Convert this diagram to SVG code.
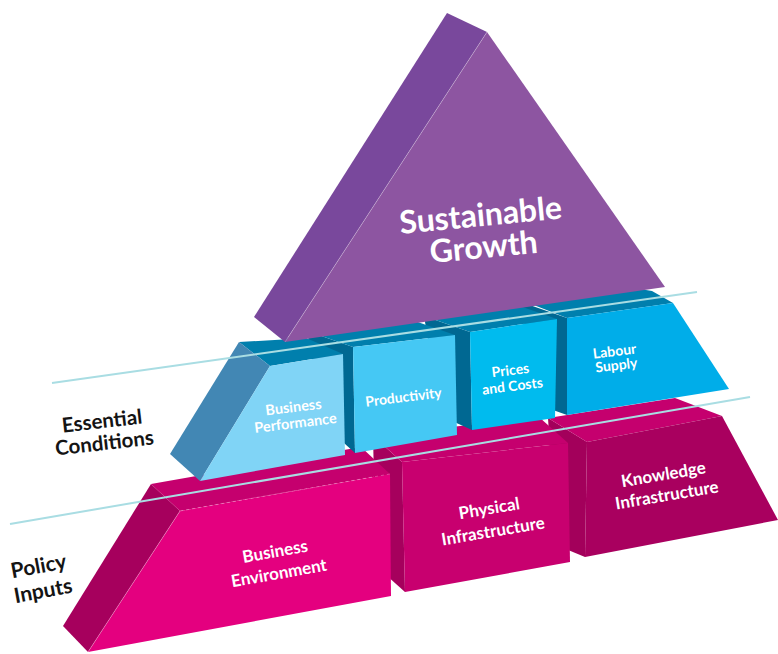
<svg xmlns="http://www.w3.org/2000/svg" width="778" height="654" viewBox="0 0 778 654">
  <style>
    .lbl { font-family: Lato, "Open Sans", "Liberation Sans", sans-serif; font-weight: 700; fill: #ffffff; text-anchor: middle; }
    .side-lbl { font-family: Lato, "Open Sans", "Liberation Sans", sans-serif; font-weight: 700; fill: #141414; text-anchor: middle; }
    .edge { fill: none; stroke: #ffffff; stroke-opacity: 0.35; stroke-width: 0.8; }
    .guide { stroke: #a9dde3; stroke-width: 2; fill: none; }
    .mg-top { fill: #c5006e; }
    .mg-side { fill: #a6005d; }
    .bl-top { fill: #007fad; }
    .bl-seam { fill: #006892; }
  </style>

  <rect width="778" height="654" fill="#ffffff"/>

  <!-- Policy inputs tier (magenta), drawn right to left -->
  <g id="knowledge-infrastructure">
    <polygon points="548,418 587,442 585,557 556,545" fill="#a3005b"/>
    <polygon class="mg-top" points="548,418 675,398 722,416 587,442"/>
    <polygon points="587,442 722,416 778,520 585,557" fill="#a9005f"/>
    <g transform="translate(666,490) rotate(-9.5)">
      <text class="lbl" x="0" y="-10" font-size="17">Knowledge</text>
      <text class="lbl" x="0" y="11" font-size="17">Infrastructure</text>
    </g>
  </g>

  <g id="physical-infrastructure">
    <polygon class="mg-side" points="373,436 402,462 405,592 376,566"/>
    <polygon class="mg-top" points="373,436 539,417 568,443 402,462"/>
    <polygon points="402,462 568,443 570,562 405,592" fill="#c8006f"/>
    <g transform="translate(492,525) rotate(-9.5)">
      <text class="lbl" x="0" y="-11" font-size="17">Physical</text>
      <text class="lbl" x="0" y="12" font-size="17">Infrastructure</text>
    </g>
  </g>

  <g id="business-environment">
    <polygon class="mg-side" points="151,484 180,511 88,652 63,626"/>
    <polygon class="mg-top" points="151,484 361,447 390,474 180,511"/>
    <polygon points="180,511 390,474 391,596 88,652" fill="#e4007f"/>
    <line class="edge" x1="180" y1="511" x2="88" y2="652"/>
    <line class="edge" x1="180" y1="511" x2="390" y2="474" stroke-dasharray="3 3"/>
    <g transform="translate(278,568) rotate(-10)">
      <text class="lbl" x="0" y="-11" font-size="17">Business</text>
      <text class="lbl" x="0" y="11" font-size="17">Environment</text>
    </g>
  </g>

  <!-- Essential conditions tier (blue), drawn right to left -->
  <g id="labour-supply">
    <polygon class="bl-seam" points="567,318 521,302 536,404 567,415"/>
    <polygon class="bl-top" points="567,318 673,303 652,291 640,289 521,300"/>
    <polygon points="567,318 673,303 729,389 567,415" fill="#00ade9"/>
    <g transform="translate(616,363) rotate(-7)">
      <text class="lbl" x="0" y="-7" font-size="14">Labour</text>
      <text class="lbl" x="0" y="7" font-size="14">Supply</text>
    </g>
  </g>

  <g id="prices-and-costs">
    <polygon class="bl-seam" points="470,332 424,316 441,416 472,430"/>
    <polygon class="bl-top" points="470,332 557,319 511,303 424,316"/>
    <polygon points="470,332 557,319 555,418 472,430" fill="#00bbee"/>
    <g transform="translate(512,383) rotate(-7)">
      <text class="lbl" x="0" y="-8" font-size="14">Prices</text>
      <text class="lbl" x="0" y="8" font-size="14">and Costs</text>
    </g>
  </g>

  <g id="productivity">
    <polygon class="bl-seam" points="353,347 307,331 324,425 355,453"/>
    <polygon class="bl-top" points="353,347 455,335 409,319 307,331"/>
    <polygon points="353,347 455,335 457,435 355,453" fill="#45c8f4"/>
    <g transform="translate(404,402) rotate(-7)">
      <text class="lbl" x="0" y="0" font-size="14">Productivity</text>
    </g>
  </g>

  <g id="business-performance">
    <polygon class="bl-top" points="239,342 283,339.5 297,334 343,354 270,366"/>
    <polygon points="239,342 270,366 200,481 170,454" fill="#4287b4"/>
    <polygon points="270,366 343,354 345,455 200,481" fill="#80d4f6"/>
    <g transform="translate(295,420) rotate(-7)">
      <text class="lbl" x="0" y="-8" font-size="14.5">Business</text>
      <text class="lbl" x="0" y="8" font-size="14.5">Performance</text>
    </g>
  </g>

  <!-- Apex -->
  <g id="sustainable-growth">
    <polygon points="447,13 487,32 285,342 254,317" fill="#79489c"/>
    <polygon points="487,32 665,287 285,342" fill="#8d55a1"/>
    <line class="edge" x1="487" y1="32" x2="285" y2="342"/>
    <g transform="translate(483,240) rotate(-5.5)">
      <text class="lbl" x="0" y="-14" font-size="32">Sustainable</text>
      <text class="lbl" x="0" y="18" font-size="32">Growth</text>
    </g>
  </g>

  <!-- Tier dividers -->
  <g id="connectors">
    <line class="guide" x1="52" y1="383" x2="697" y2="292"/>
    <line class="guide" x1="10" y1="524" x2="750" y2="397"/>
  </g>

  <!-- Tier names -->
  <g id="label-essential-conditions" transform="translate(104,439) rotate(-6.5)">
    <text class="side-lbl" x="0" y="-11" font-size="20.5">Essential</text>
    <text class="side-lbl" x="0" y="11" font-size="20.5">Conditions</text>
  </g>
  <g id="label-policy-inputs" transform="translate(42,585) rotate(-10.5)">
    <text class="side-lbl" x="0" y="-12" font-size="21">Policy</text>
    <text class="side-lbl" x="0" y="13" font-size="21">Inputs</text>
  </g>
</svg>
